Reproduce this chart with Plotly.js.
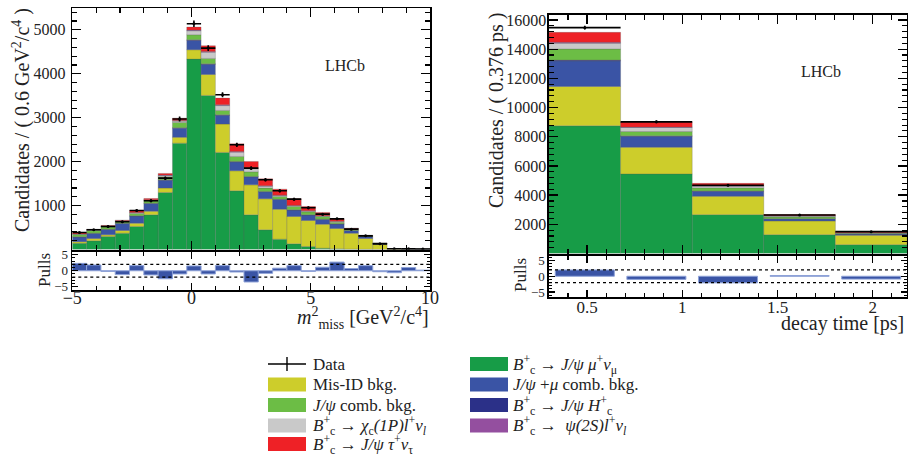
<!DOCTYPE html>
<html><head><meta charset="utf-8">
<script src="https://cdn.plot.ly/plotly-3.0.1.min.js"></script>
<style>html,body{margin:0;padding:0;background:#fff}#chart{width:908px;height:456px}</style>
</head><body><div id="chart"></div>
<script>
// ---------- left panel: m2_miss ----------
const mmissCenters = [-4.7,-4.1,-3.5,-2.9,-2.3,-1.7,-1.1,-0.5,0.1,0.7,1.3,1.9,2.5,3.1,3.7,4.3,4.9,5.5,6.1,6.7,7.3,7.9,8.5,9.1,9.7];
const mSignal = [140,197,296,372,524,789,1298,2421,4334,3507,2209,1336,789,448,235,129,68,30,15,8,3,1,0,0,0];
const mMisID  = [38,53,38,61,76,84,99,133,213,478,645,455,683,706,683,622,592,547,463,364,247,120,10,5,2];
const mJpsiMuComb = [107,119,125,162,161,174,179,208,212,229,200,203,182,161,223,148,126,112,104,60,45,14,4,5,2];
const mHc     = [3,3,4,5,6,8,10,12,15,14,12,10,8,6,5,4,3,2,2,1,1,0,0,0,0];
const mJpsiComb = [53,61,53,38,53,53,69,118,114,121,99,114,106,76,61,76,69,60,38,30,12,5,2,4,2];
const mChic   = [11,12,11,10,18,16,30,32,92,140,111,98,72,45,24,18,18,13,21,6,5,2,2,2,1];
const mPsi2S  = [3,3,3,4,5,6,8,10,15,20,18,15,12,8,6,5,4,3,2,1,1,0,0,0,0];
const mTau    = [28,15,17,16,45,31,38,56,68,129,152,175,152,159,137,152,99,76,53,16,12,2,2,2,1];
const mData   = [387,448,524,630,888,1108,1624,2970,5138,4584,3522,2383,1852,1586,1336,1146,949,805,698,463,311,129,16,15,10];
const mPulls  = [2.3,1.8,-0.2,-1.2,1.6,-1.3,-2.5,-1.0,1.5,-1.0,1.6,-0.4,-3.5,-0.8,0.8,1.6,-0.2,1.1,2.7,0.7,1.6,-0.3,-0.6,1.0,0.2];

// ---------- right panel: decay time ----------
const tCenters = [0.488,0.864,1.24,1.616,1.992];
const tSignal = [8748,5453,2663,1290,604];
const tMisID  = [2700,1830,1258,938,641];
const tJpsiMuComb = [1750,750,350,152,87];
const tHc     = [57,27,16,8,4];
const tJpsiComb = [755,297,206,115,46];
const tChic   = [389,275,114,68,40];
const tPsi2S  = [69,30,15,8,5];
const tTau    = [685,366,183,92,74];
const tData   = [15473,9020,4676,2640,1496];
const tPulls  = [2.0,-1.0,-2.1,0.2,-0.9];

const leftYTicks = [1000,2000,3000,4000,5000];
const rightYTicks = [2000,4000,6000,8000,10000,12000,14000,16000];
const rightYTickText = ['2000','4000','6000','8000','10000','12000','14000','16000'];
const leftXTicks = [-5,0,5,10];
const rightXTicks = [0.5,1,1.5,2];
const rightXTickText = ['0.5','1','1.5','2'];
const pullTicks = [-5,0,5];

const comps = [
  {l:mSignal,     r:tSignal,     c:'#179c47'},
  {l:mMisID,      r:tMisID,      c:'#cdcd2b'},
  {l:mJpsiMuComb, r:tJpsiMuComb, c:'#3a54a5'},
  {l:mHc,         r:tHc,         c:'#2b3088'},
  {l:mJpsiComb,   r:tJpsiComb,   c:'#6cbd45'},
  {l:mChic,       r:tChic,       c:'#c9c9c9'},
  {l:mPsi2S,      r:tPsi2S,      c:'#944f9f'},
  {l:mTau,        r:tTau,        c:'#ee2126'}
];

const traces = [];
comps.forEach(cp => {
  traces.push({type:'bar', x:mmissCenters, y:cp.l, xaxis:'x', yaxis:'y', marker:{color:cp.c, line:{color:'rgba(90,90,90,0.45)', width:0.6}}, showlegend:false, hoverinfo:'skip'});
  traces.push({type:'bar', x:tCenters, y:cp.r, xaxis:'x3', yaxis:'y3', marker:{color:cp.c, line:{color:'rgba(90,90,90,0.45)', width:0.6}}, showlegend:false, hoverinfo:'skip'});
});
traces.push({type:'scatter', mode:'markers', x:mmissCenters, y:mData, xaxis:'x', yaxis:'y',
  marker:{color:'black', size:3}, error_x:{type:'constant', value:0.3, width:0, thickness:1.6, color:'black'},
  error_y:{type:'sqrt', width:0, thickness:1.6, color:'black'}, showlegend:false, hoverinfo:'skip'});
traces.push({type:'scatter', mode:'markers', x:tCenters, y:tData, xaxis:'x3', yaxis:'y3',
  marker:{color:'black', size:3}, error_x:{type:'constant', value:0.188, width:0, thickness:1.6, color:'black'},
  error_y:{type:'sqrt', width:0, thickness:1.6, color:'black'}, showlegend:false, hoverinfo:'skip'});
traces.push({type:'bar', x:mmissCenters, y:mPulls, xaxis:'x2', yaxis:'y2', marker:{color:'#3a54a5', line:{color:'#8ea2d8', width:1}}, showlegend:false, hoverinfo:'skip'});
traces.push({type:'bar', x:tCenters, y:tPulls, width:0.31, xaxis:'x4', yaxis:'y4', marker:{color:'#3a54a5', line:{color:'#8ea2d8', width:1}}, showlegend:false, hoverinfo:'skip'});

const W = 908, H = 456;
const px = v => v / W;
const py = v => 1 - v / H;
const F = 'Liberation Serif, Times New Roman, serif';

const axBase = {showline:true, linecolor:'black', linewidth:1.6, mirror:'allticks', ticks:'inside', tickcolor:'black', tickwidth:1.3, zeroline:false, showgrid:false, tickfont:{family:F, size:16, color:'#222'}, fixedrange:true};

const layout = {
  width:W, height:H, margin:{l:0,r:0,t:0,b:0}, paper_bgcolor:'white', plot_bgcolor:'white',
  barmode:'relative', bargap:0, showlegend:false, font:{family:F, color:'#222'},
  xaxis: Object.assign({}, axBase, {domain:[px(72.3), px(430)], anchor:'y', range:[-5,10], tickvals:leftXTicks, ticklen:9, showticklabels:false, minor:{ticks:'inside', ticklen:5, dtick:1, tick0:0, tickcolor:'black', tickwidth:1.1}}),
  yaxis: Object.assign({}, axBase, {domain:[py(249.5), py(8.3)], anchor:'x', range:[0,5490], tickvals:leftYTicks, ticklen:9, ticklabelstandoff:2, minor:{ticks:'inside', ticklen:5, dtick:200, tick0:0, tickcolor:'black', tickwidth:1.1}}),
  xaxis2: Object.assign({}, axBase, {domain:[px(72.3), px(430)], anchor:'y2', range:[-5,10], tickvals:leftXTicks, ticklen:7, ticklabelstandoff:-9, tickfont:{family:F, size:18, color:'#222'}, minor:{ticks:'inside', ticklen:4, dtick:1, tick0:0, tickcolor:'black', tickwidth:1.1}}),
  yaxis2: Object.assign({}, axBase, {domain:[py(290), py(251.5)], anchor:'x2', range:[-6,6], tickvals:pullTicks, ticklen:6, tickfont:{family:F, size:13, color:'#222'}, minor:{ticks:'inside', ticklen:3, dtick:1, tick0:0, tickcolor:'black', tickwidth:1}}),
  xaxis3: Object.assign({}, axBase, {domain:[px(549), px(907)], anchor:'y3', range:[0.3,2.18], tickvals:rightXTicks, ticklen:9, showticklabels:false, minor:{ticks:'inside', ticklen:5, dtick:0.1, tick0:0, tickcolor:'black', tickwidth:1.1}}),
  yaxis3: Object.assign({}, axBase, {domain:[py(253.5), py(15)], anchor:'x3', range:[0,16340], tickvals:rightYTicks, ticktext:rightYTickText, ticklen:9, ticklabelstandoff:-2, minor:{ticks:'inside', ticklen:5, dtick:400, tick0:0, tickcolor:'black', tickwidth:1.1}}),
  xaxis4: Object.assign({}, axBase, {domain:[px(549), px(907)], anchor:'y4', range:[0.3,2.18], tickvals:rightXTicks, ticktext:rightXTickText, ticklen:7, ticklabelstandoff:-6, tickfont:{family:F, size:17, color:'#222'}, minor:{ticks:'inside', ticklen:4, dtick:0.1, tick0:0, tickcolor:'black', tickwidth:1.1}}),
  yaxis4: Object.assign({}, axBase, {domain:[py(297), py(255.5)], anchor:'x4', range:[-6.6,6.6], tickvals:pullTicks, ticklen:6, tickfont:{family:F, size:13, color:'#222'}, minor:{ticks:'inside', ticklen:3, dtick:1, tick0:0, tickcolor:'black', tickwidth:1}}),
  shapes: [
    {type:'line', xref:'x2 domain', yref:'y2', x0:0, x1:1, y0:2, y1:2, line:{color:'black', width:1.3, dash:'dot'}},
    {type:'line', xref:'x2 domain', yref:'y2', x0:0, x1:1, y0:-2, y1:-2, line:{color:'black', width:1.3, dash:'dot'}},
    {type:'line', xref:'x4 domain', yref:'y4', x0:0, x1:1, y0:2, y1:2, line:{color:'black', width:1.3, dash:'dot'}},
    {type:'line', xref:'x4 domain', yref:'y4', x0:0, x1:1, y0:-2, y1:-2, line:{color:'black', width:1.3, dash:'dot'}}
  ],
  annotations: []
};

const A = (text, x, y, opt) => layout.annotations.push(Object.assign({text:text, xref:'paper', yref:'paper', x:px(x), y:py(y), showarrow:false, xanchor:'center', yanchor:'middle', font:{family:F, size:20, color:'#222'}}, opt||{}));

A('Candidates / ( 0.6 GeV<sup>2</sup>/c<sup>4</sup> )', 22, 120, {textangle:-90});
A('Pulls', 44, 270, {textangle:-90, font:{family:F, size:17, color:'#222'}});
A('<i>m</i><sup>2</sup><sub>miss</sub> [GeV<sup>2</sup>/c<sup>4</sup>]', 431, 318, {xanchor:'right'});
A('LHCb', 345, 65, {font:{family:F, size:16, color:'#222'}});

A('Candidates / ( 0.376 ps )', 497, 110, {textangle:-90});
A('Pulls', 520, 275, {textangle:-90, font:{family:F, size:17, color:'#222'}});
A('decay time [ps]', 906, 323, {xanchor:'right'});
A('LHCb', 821, 71, {font:{family:F, size:16, color:'#222'}});

// legend
const legCol1 = [
  {t:'Data', c:null},
  {t:'Mis-ID bkg.', c:'#cdcd2b'},
  {t:'<i>J/ψ</i> comb. bkg.', c:'#6cbd45'},
  {t:'<i>B</i><sup>+</sup><sub>c</sub> → <i>χ</i><sub>c</sub><i>(1P)l</i><sup>+</sup><i>ν</i><sub><i>l</i></sub>', c:'#c9c9c9'},
  {t:'<i>B</i><sup>+</sup><sub>c</sub> → <i>J/ψ τ</i><sup>+</sup><i>ν</i><sub>τ</sub>', c:'#ee2126'}
];
const legCol2 = [
  {t:'<i>B</i><sup>+</sup><sub>c</sub> → <i>J/ψ μ</i><sup>+</sup><i>ν</i><sub>μ</sub>', c:'#179c47'},
  {t:'<i>J/ψ</i> +<i>μ</i> comb. bkg.', c:'#3a54a5'},
  {t:'<i>B</i><sup>+</sup><sub>c</sub> → <i>J/ψ H</i><sup>+</sup><sub>c</sub>', c:'#2b3088'},
  {t:'<i>B</i><sup>+</sup><sub>c</sub> →  <i>ψ(2S)l</i><sup>+</sup><i>ν</i><sub><i>l</i></sub>', c:'#944f9f'}
];
const rowY = [364, 384.5, 405, 425.5, 444];
function legItem(it, i, sx, tx) {
  const yc = rowY[i];
  if (it.c) {
    layout.shapes.push({type:'rect', xref:'paper', yref:'paper', x0:px(sx), x1:px(sx+38), y0:py(yc+7), y1:py(yc-7), fillcolor:it.c, line:{color:'rgba(255,255,255,0)', width:0}});
  } else {
    layout.shapes.push({type:'line', xref:'paper', yref:'paper', x0:px(sx), x1:px(sx+38), y0:py(yc), y1:py(yc), line:{color:'black', width:1.4}});
    layout.shapes.push({type:'line', xref:'paper', yref:'paper', x0:px(sx+19), x1:px(sx+19), y0:py(yc-7), y1:py(yc+7), line:{color:'black', width:1.4}});
  }
  A(it.t, tx, yc, {xanchor:'left', font:{family:F, size:17, color:'#222'}});
}
legCol1.forEach((it,i) => legItem(it, i, 268, 311));
legCol2.forEach((it,i) => legItem(it, i, 470, 511));

Plotly.newPlot('chart', traces, layout, {staticPlot:true, displayModeBar:false});
</script></body></html>
